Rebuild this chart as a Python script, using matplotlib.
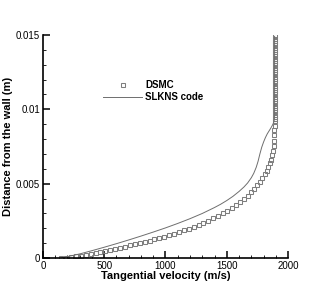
import matplotlib
matplotlib.use('Agg')
from matplotlib import pyplot as plt
from matplotlib.ticker import MultipleLocator, FixedLocator, FixedFormatter

plt.rcParams['font.family'] = ['Liberation Sans', 'DejaVu Sans']

# DSMC results (tangential velocity m/s, distance m)
dsmc_u = [150, 190, 230, 270, 310, 350, 390, 430, 470, 510, 550, 590, 630, 670, 710,
          750, 790, 830, 870, 910, 950, 990, 1030, 1070, 1110, 1150, 1190, 1230, 1270,
          1310, 1350, 1390, 1430, 1470, 1505, 1540, 1575, 1608, 1640, 1670, 1698, 1724,
          1748, 1770, 1790, 1808, 1824, 1838, 1851, 1862, 1871, 1878, 1883, 1886, 1888,
          1889, 1890,
          1890, 1890, 1890, 1890, 1890, 1890, 1890, 1890, 1890, 1890, 1890, 1890, 1890,
          1890, 1890, 1890, 1890, 1890, 1890, 1890, 1890, 1890, 1890, 1890, 1890, 1890,
          1890, 1890, 1890, 1890, 1890, 1890, 1890, 1890, 1890, 1890, 1890, 1890, 1890]
dsmc_y = [0.0, 0.00003, 0.00007, 0.00011, 0.00016, 0.00021, 0.00027, 0.00033, 0.00039,
          0.00046, 0.00053, 0.00061, 0.00069, 0.00077, 0.00085, 0.00093, 0.00101, 0.00109,
          0.00117, 0.00126, 0.00135, 0.00145, 0.00155, 0.00165, 0.00176, 0.00187, 0.00199,
          0.00211, 0.00224, 0.00238, 0.00252, 0.00268, 0.00284, 0.00301, 0.00318, 0.00336,
          0.00355, 0.00376, 0.00398, 0.00420, 0.00443, 0.00466, 0.00490, 0.00514, 0.00538,
          0.00562, 0.00587, 0.00612, 0.00637, 0.00662, 0.00690, 0.00720, 0.00755, 0.00790,
          0.00825, 0.00860, 0.00890,
          0.00920, 0.00935, 0.00950, 0.00965, 0.00980, 0.00995, 0.01010, 0.01025, 0.01040,
          0.01055, 0.01070, 0.01085, 0.01100, 0.01115, 0.01130, 0.01145, 0.01160, 0.01175,
          0.01190, 0.01205, 0.01220, 0.01235, 0.01250, 0.01265, 0.01280, 0.01295, 0.01310,
          0.01325, 0.01340, 0.01355, 0.01370, 0.01385, 0.01400, 0.01415, 0.01430, 0.01445,
          0.01460, 0.01475, 0.01490]

# SLKNS code solution
slkns_u = [140, 200, 300, 400, 500, 600, 700, 800, 900, 1000, 1100, 1200, 1300, 1400,
           1450, 1500, 1550, 1600, 1640, 1670, 1700, 1720, 1740, 1755, 1770, 1785, 1800,
           1815, 1830, 1845, 1860, 1872, 1882, 1888, 1890, 1890]
slkns_y = [0.0, 0.00010, 0.00028, 0.00050, 0.00073, 0.00097, 0.00122, 0.00148, 0.00175,
           0.00203, 0.00233, 0.00265, 0.00300, 0.00340, 0.00362, 0.00387, 0.00415,
           0.00448, 0.00478, 0.00505, 0.00540, 0.00570, 0.00610, 0.00650, 0.00700,
           0.00745, 0.00780, 0.00810, 0.00835, 0.00855, 0.00875, 0.00893, 0.00910,
           0.00930, 0.00960, 0.01490]

xticks = [0, 500, 1000, 1500, 2000]
yticks = [0, 0.005, 0.01, 0.015]
ytick_labels = ['0', '0.005', '0.01', '0.015']

fig = plt.figure(figsize=(3.27, 2.91), dpi=100)
ax = fig.add_axes([0.131, 0.113, 0.75, 0.767])

ax.plot(dsmc_u, dsmc_y, linestyle='none', marker='s', markersize=2.2,
        markerfacecolor='none', markeredgecolor='#7e7e7e', markeredgewidth=0.75,
        label='DSMC')
ax.plot(slkns_u, slkns_y, color='#6e6e6e', linewidth=0.7, label='SLKNS code')

ax.set_xlim(0, 2000)
ax.set_ylim(0, 0.015)
ax.xaxis.set_major_locator(FixedLocator(xticks))
ax.xaxis.set_minor_locator(MultipleLocator(100))
ax.yaxis.set_major_locator(FixedLocator(yticks))
ax.yaxis.set_major_formatter(FixedFormatter(ytick_labels))
ax.yaxis.set_minor_locator(MultipleLocator(0.001))

for s in ['top', 'right']:
    ax.spines[s].set_visible(False)
for s in ['left', 'bottom']:
    ax.spines[s].set_linewidth(1.2)

ax.tick_params(which='major', direction='in', length=5, width=1.1, labelsize=7, pad=2)
ax.tick_params(which='minor', direction='in', length=2.5, width=0.6)

ax.set_xlabel('Tangential velocity (m/s)', fontsize=8, fontweight='bold', labelpad=0)
ax.set_ylabel('Distance from the wall (m)', fontsize=8, fontweight='bold', labelpad=2)

leg = ax.legend(loc='upper left', bbox_to_anchor=(0.21, 0.835), frameon=False,
                handlelength=4, handletextpad=0.3, labelspacing=0.15,
                prop={'size': 7, 'weight': 'bold'})

fig.savefig('out.png', dpi=100)
